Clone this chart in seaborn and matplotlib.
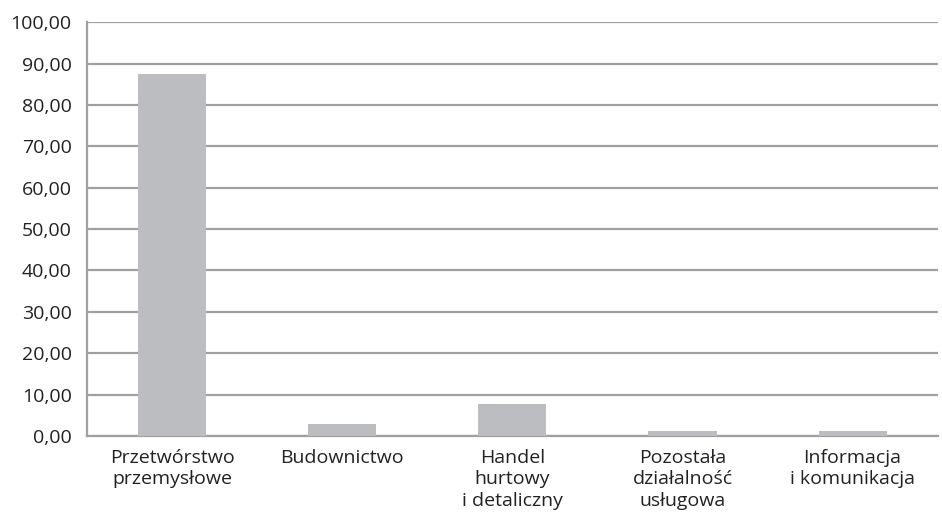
import matplotlib
matplotlib.use("Agg")
import matplotlib.pyplot as plt
import seaborn as sns
import pandas as pd
import numpy as np

# data
categories = [
    "Przetwórstwo\nprzemysłowe",
    "Budownictwo",
    "Handel\nhurtowy\ni detaliczny",
    "Pozostała\ndziałalność\nusługowa",
    "Informacja\ni komunikacja",
]
values = [87.4, 2.9, 7.7, 1.3, 1.3]
y_ticks = [0, 10, 20, 30, 40, 50, 60, 70, 80, 90, 100]

sns.set_theme(style="white")
plt.rcParams["font.family"] = ["Open Sans", "DejaVu Sans"]

df = pd.DataFrame({"cat": categories, "val": values})

fig = plt.figure(figsize=(9.42, 5.16), dpi=100)
ax = fig.add_axes([0.0924, 0.155, 0.903, 0.802])

sns.barplot(data=df, x="cat", y="val", color="#bcbdc0", width=0.4,
            saturation=1, edgecolor="none", linewidth=0, ax=ax, zorder=3)

grid_col = "#a0a0a0"
ax.set_ylim(0, 100)
ax.set_xlim(-0.5, len(categories) - 0.5)
ax.set_yticks(y_ticks)
ax.set_yticklabels([f"{t:.2f}".replace(".", ",") for t in y_ticks],
                   fontsize=14, color="#222222")
for t in y_ticks:
    ax.axhline(t, color=grid_col, lw=1.6, zorder=1)

# category labels at centres, ticks at boundaries
ax.set_xticks(range(len(categories)))
ax.set_xticklabels(categories, fontsize=14, color="#222222", linespacing=1.25)
ax.tick_params(axis="x", which="major", length=0, pad=9)
ax.set_xticks(np.arange(-0.5, len(categories)), minor=True)
ax.tick_params(axis="x", which="minor", length=7, width=1.4, color=grid_col)
ax.tick_params(axis="y", length=9, width=1.4, color=grid_col, pad=2)

ax.set_xlabel("")
ax.set_ylabel("")
for side in ["top", "right"]:
    ax.spines[side].set_visible(False)
ax.spines["left"].set_color(grid_col)
ax.spines["left"].set_linewidth(1.6)
ax.spines["bottom"].set_color(grid_col)
ax.spines["bottom"].set_linewidth(1.6)

fig.savefig("out.png", dpi=100)
